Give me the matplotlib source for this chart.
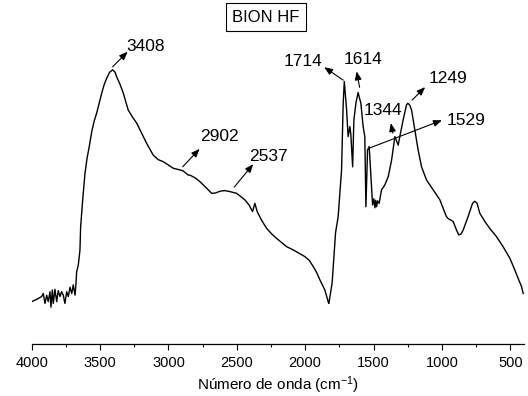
import matplotlib
matplotlib.use("Agg")
import matplotlib.pyplot as plt
import numpy as np

plt.rcParams['font.family'] = ['Liberation Sans', 'DejaVu Sans']
plt.rcParams['mathtext.fontset'] = 'custom'
plt.rcParams['mathtext.rm'] = 'Liberation Sans'
plt.rcParams['mathtext.it'] = 'Liberation Sans:italic'

# FTIR spectrum, BION HF sample (transmittance, arbitrary %)
wavenumber = [4000, 3963, 3927, 3915, 3903, 3890, 3879, 3866, 3859, 3849,
              3842, 3830, 3817, 3806, 3793, 3781, 3769, 3757, 3744, 3732,
              3720, 3707, 3696, 3683, 3676, 3671, 3659, 3647, 3642, 3627,
              3610, 3595, 3579, 3561, 3543, 3525, 3488, 3470, 3452, 3430,
              3408, 3390, 3379, 3355, 3330, 3294, 3260, 3232, 3195, 3159,
              3111, 3075, 3038, 2965, 2916, 2892, 2855, 2843, 2805, 2770,
              2721, 2684, 2655, 2624, 2590, 2550, 2501, 2441, 2410, 2385,
              2368, 2351, 2319, 2282, 2245, 2209, 2170, 2136, 2100, 2063,
              2002, 1970, 1941, 1915, 1892, 1856, 1832, 1827,
              1803, 1778, 1759, 1734, 1722, 1714, 1697, 1686, 1673, 1666,
              1653, 1644, 1629, 1613, 1593, 1576, 1564, 1556, 1544, 1532,
              1522, 1507, 1498, 1490, 1484, 1478, 1470, 1459, 1442, 1418,
              1393, 1368, 1344, 1320, 1308, 1284, 1259, 1249, 1235, 1222, 1198,
              1174, 1149, 1113, 1064, 1015, 967, 955, 918, 893, 877,
              860, 845, 809, 776, 760, 743, 723, 686, 650, 601, 553, 503,
              467, 443, 418, 406]
transmittance = [12.3, 13.0, 13.8, 14.7, 11.8, 14.2, 12.3, 15.2, 10.7, 15.7,
                 11.8, 15.9, 12.3, 15.5, 13.8, 15.2, 14.2, 11.8, 15.2, 13.8,
                 16.5, 14.7, 17.2, 14.2, 17.6, 21.0, 23.0, 27.3, 34.1, 41.9,
                 49.7, 54.0, 57.4, 61.7, 64.8, 67.1, 72.9, 75.4, 77.2, 79.0,
                 79.7, 79.0, 77.7, 75.6, 72.9, 68.0, 65.8, 64.2, 61.2, 58.3,
                 54.9, 53.6, 53.0, 51.1, 50.6, 50.3, 49.1, 49.1, 48.3, 47.2,
                 45.3, 43.8, 43.9, 44.4, 44.6, 44.3, 43.8, 41.9, 40.4, 38.5,
                 40.9, 38.5, 36.0, 33.6, 32.0, 30.7, 29.4, 28.3, 27.6, 26.8,
                 25.4, 24.3, 22.5, 20.7, 18.6, 15.7, 12.3, 11.8,
                 17.7, 32.3, 37.0, 50.6, 70.1, 76.3, 68.0, 60.3, 63.2, 60.8,
                 51.5, 65.1, 70.0, 73.1, 70.0, 63.2, 60.3, 39.9, 56.4, 57.4,
                 50.6, 40.4, 42.2, 39.6, 41.8, 39.9, 41.6, 40.9, 44.8, 46.2,
                 48.6, 53.5, 60.3, 57.8, 60.3, 65.1, 69.5, 70.0, 69.4, 68.0, 62.2,
                 56.4, 51.5, 47.7, 44.8, 41.9, 37.0, 36.5, 35.6, 33.1, 31.7,
                 32.0, 33.1, 37.0, 40.9, 41.5, 40.9, 38.0, 35.6, 33.6, 31.2, 28.3, 24.9,
                 21.5, 19.1, 16.7, 14.7]

# labelled bands: position on the curve, arrow head and label offsets (pixels)
band_labels = ['3408', '2902', '2537', '1714', '1614', '1344', '1249', '1529']
band_xy = [(3408, 80.6), (2896, 51.5), (2519, 45.6), (1722, 76.7),
           (1602, 74.6), (1359, 61.3), (1218, 70.9), (1534, 56.9)]
head_off = [(15, 15), (17, 18), (19, 23), (-19, 13),
            (-3, 16), (-2, 10), (13, 13), (73, 28)]
text_off = [(14, 20), (17, 30), (15, 31), (-21, 19),
            (3, 28), (-10, 23), (17, 22), (78, 28)]
text_ha = ['left', 'left', 'left', 'right', 'center', 'center', 'left', 'left']

fig = plt.figure(figsize=(5.28, 3.96), dpi=100)
ax = fig.add_axes([0.060, 0.1313, 0.9324, 0.8687])

ax.plot(wavenumber, transmittance, color='black', lw=1.0)
ax.set_xlim(4000, 400)
ax.set_ylim(0, 100)

for lab, xy, ho, to, ha in zip(band_labels, band_xy, head_off, text_off, text_ha):
    ax.annotate('', xy=xy, xycoords='data', xytext=ho, textcoords='offset pixels',
                arrowprops=dict(arrowstyle='<|-,head_length=0.5,head_width=0.2',
                                color='black', lw=0.8, shrinkA=0, shrinkB=0))
    ax.annotate(lab, xy=xy, xycoords='data', xytext=to, textcoords='offset pixels',
                ha=ha, va='center', fontsize=12.5)

for s in ['left', 'top', 'right']:
    ax.spines[s].set_visible(False)
ax.spines['bottom'].set_linewidth(0.9)
ax.set_yticks([])
ax.set_xticks(np.arange(4000, 499, -500))
ax.set_xticks(np.arange(3750, 400, -500), minor=True)
ax.tick_params(axis='x', which='major', direction='out', length=4.5, width=0.8,
               labelsize=10.5, pad=4)
ax.tick_params(axis='x', which='minor', direction='out', length=2.5, width=0.8)
ax.set_xlabel(r'Número de onda (cm$^{-1}$)', fontsize=11, labelpad=3)

fig.text(266 / 528, 1 - 17 / 396, 'BION HF', ha='center', va='center', fontsize=12,
         bbox=dict(boxstyle='square,pad=0.4', fc='white', ec='black', lw=0.8))

fig.savefig('out.png', dpi=100)
